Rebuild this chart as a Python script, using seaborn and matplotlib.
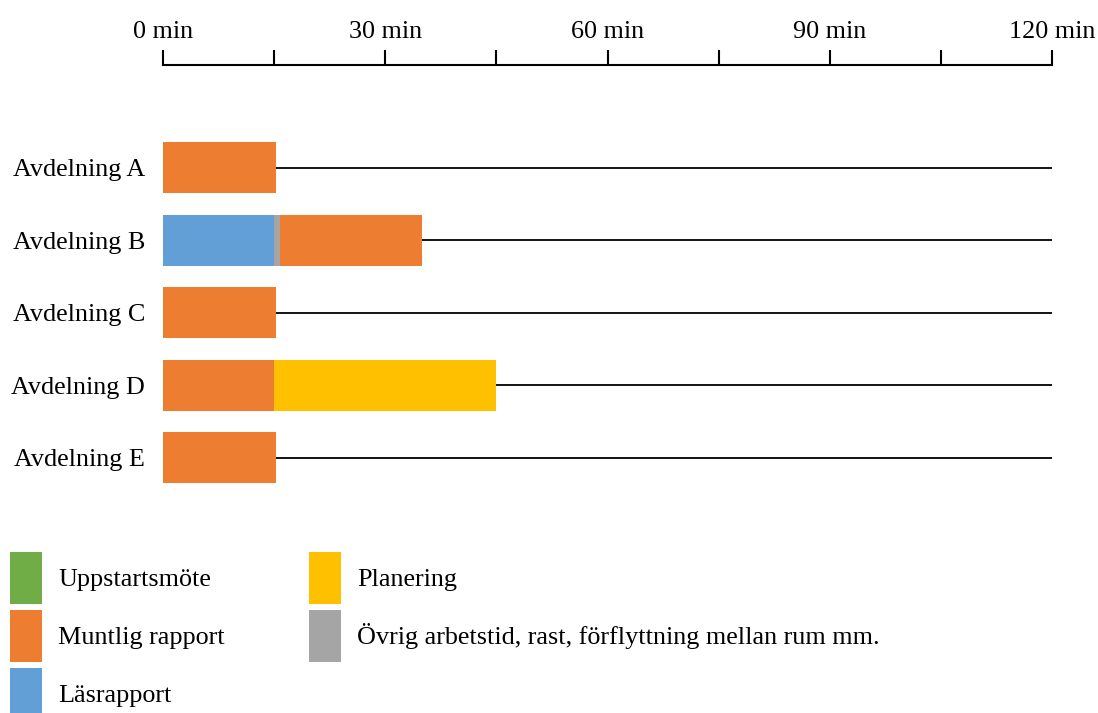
import pandas as pd
import matplotlib
matplotlib.use("Agg")
import matplotlib.pyplot as plt
from matplotlib.patches import Patch
import seaborn as sns

# data: stacking order per department, minutes
departments = ["Avdelning A", "Avdelning B", "Avdelning C", "Avdelning D", "Avdelning E"]
seg_dept = ["Avdelning A",
            "Avdelning B", "Avdelning B", "Avdelning B",
            "Avdelning C",
            "Avdelning D", "Avdelning D",
            "Avdelning E"]
seg_activity = ["Muntlig rapport",
                "Läsrapport", "Övrig arbetstid, rast, förflyttning mellan rum mm.", "Muntlig rapport",
                "Muntlig rapport",
                "Muntlig rapport", "Planering",
                "Muntlig rapport"]
seg_minutes = [15.3, 15.0, 0.8, 19.2, 15.3, 15.0, 30.0, 15.3]
total_time = 120

activities = ["Uppstartsmöte", "Muntlig rapport", "Läsrapport", "Planering",
              "Övrig arbetstid, rast, förflyttning mellan rum mm."]
colors = ["#70AD47", "#ED7D31", "#629FD6", "#FFC000", "#A5A5A5"]
palette = dict(zip(activities, colors))

df = pd.DataFrame({"dept": seg_dept, "activity": seg_activity, "minutes": seg_minutes})
df["end"] = df.groupby("dept")["minutes"].cumsum()
df["layer"] = df.groupby("dept").cumcount()
totals = df.groupby("dept")["end"].max().reindex(departments)

sns.set_style("white")
plt.rcParams["font.family"] = ["Liberation Serif", "DejaVu Serif"]
plt.rcParams["text.color"] = "black"
plt.rcParams["xtick.color"] = "black"
plt.rcParams["ytick.color"] = "black"
fs = 18.8

fig = plt.figure(figsize=(10.98, 7.13), dpi=100)
ax = fig.add_axes([0.1485, 0.307, 0.8097, 0.6017])

# remaining time line
ax.hlines(range(len(departments)), totals.values, total_time, color="black", lw=1.3, zorder=1)

# stacked bars: draw outer layers first, inner segments on top
for k in sorted(df["layer"].unique(), reverse=True):
    sns.barplot(data=df[df["layer"] == k], x="end", y="dept", hue="activity",
                order=departments, hue_order=activities, palette=palette,
                dodge=False, width=0.7, linewidth=0, legend=False, ax=ax,
                saturation=1, zorder=2)

ax.set_xlim(0, total_time)
ax.set_ylim(4.5, -1.417)
ax.xaxis.tick_top()
ax.set_xticks(range(0, 121, 30))
ax.set_xticklabels([f"{v} min" for v in range(0, 121, 30)], fontsize=fs)
ax.set_xticks(range(15, 120, 30), minor=True)
ax.tick_params(axis="x", which="both", direction="out", length=11, width=1.5,
               color="black", pad=5, top=True, bottom=False)
ax.tick_params(axis="y", length=0, pad=13, labelsize=fs)
ax.set_xlabel("")
ax.set_ylabel("")
for side in ["left", "right", "bottom"]:
    ax.spines[side].set_visible(False)
ax.spines["top"].set_linewidth(1.5)
ax.spines["top"].set_color("black")

# legend in two separate columns
def make_handles(names):
    return [Patch(facecolor=palette[n], edgecolor="none", label=n) for n in names]

leg_kw = dict(frameon=False, fontsize=fs, handlelength=1.226, handleheight=2.69,
              labelspacing=0.23, handletextpad=0.613, borderaxespad=0, borderpad=0)
leg1 = fig.legend(handles=make_handles(activities[:3]), loc="upper left",
                  bbox_to_anchor=(10 / 1098, 1 - 552 / 713), **leg_kw)
leg2 = fig.legend(handles=make_handles(activities[3:]), loc="upper left",
                  bbox_to_anchor=(309 / 1098, 1 - 552 / 713), **leg_kw)

fig.savefig("out.png", dpi=100)
